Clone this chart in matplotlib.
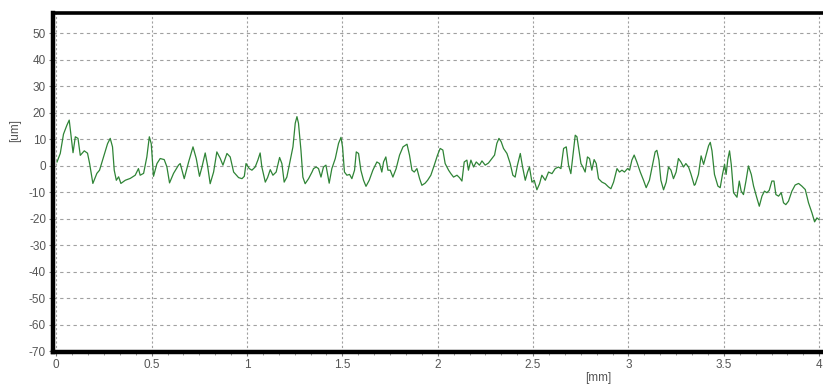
import matplotlib
matplotlib.use("Agg")
import matplotlib.pyplot as plt
from matplotlib.ticker import AutoMinorLocator

# roughness profile: position along the trace [mm] and height [um]
x_mm = [0.004, 0.021, 0.038, 0.056, 0.068, 0.088, 0.100, 0.114, 0.126, 0.147,
        0.164, 0.175, 0.192, 0.213, 0.227, 0.248, 0.269, 0.283, 0.295, 0.304,
        0.315, 0.327, 0.339, 0.362, 0.388, 0.414, 0.431, 0.440, 0.458, 0.475,
        0.488, 0.498, 0.510, 0.528, 0.545, 0.566, 0.580, 0.594, 0.615, 0.641,
        0.650, 0.671, 0.694, 0.717, 0.734, 0.751, 0.764, 0.781, 0.793, 0.807,
        0.825, 0.842, 0.860, 0.874, 0.895, 0.912, 0.930, 0.956, 0.974, 0.986,
        0.995, 1.012, 1.026, 1.043, 1.057, 1.069, 1.078, 1.096, 1.108, 1.122,
        1.136, 1.153, 1.171, 1.183, 1.195, 1.209, 1.227, 1.241, 1.253, 1.262,
        1.270, 1.283, 1.293, 1.305, 1.323, 1.341, 1.349, 1.363, 1.375, 1.388,
        1.401, 1.414, 1.431, 1.445, 1.463, 1.480, 1.493, 1.501, 1.511, 1.524,
        1.538, 1.550, 1.564, 1.573, 1.585, 1.597, 1.611, 1.624, 1.641, 1.660,
        1.681, 1.695, 1.707, 1.716, 1.728, 1.739, 1.751, 1.765, 1.782, 1.800,
        1.818, 1.839, 1.852, 1.865, 1.877, 1.891, 1.905, 1.917, 1.934, 1.947,
        1.964, 1.982, 1.999, 2.013, 2.027, 2.039, 2.057, 2.069, 2.083, 2.101,
        2.114, 2.127, 2.139, 2.153, 2.161, 2.174, 2.188, 2.202, 2.219, 2.232,
        2.249, 2.266, 2.284, 2.298, 2.310, 2.321, 2.333, 2.345, 2.363, 2.380,
        2.394, 2.406, 2.418, 2.433, 2.445, 2.459, 2.471, 2.481, 2.494, 2.506,
        2.520, 2.534, 2.546, 2.564, 2.581, 2.599, 2.616, 2.633, 2.646, 2.660,
        2.674, 2.686, 2.698, 2.709, 2.721, 2.730, 2.742, 2.751, 2.761, 2.773,
        2.785, 2.796, 2.808, 2.820, 2.831, 2.843, 2.861, 2.878, 2.895, 2.908,
        2.922, 2.940, 2.953, 2.966, 2.979, 2.995, 3.006, 3.018, 3.030, 3.044,
        3.062, 3.079, 3.093, 3.110, 3.128, 3.140, 3.149, 3.160, 3.170, 3.184,
        3.198, 3.210, 3.223, 3.236, 3.250, 3.262, 3.275, 3.289, 3.301, 3.315,
        3.327, 3.345, 3.350, 3.367, 3.381, 3.394, 3.406, 3.420, 3.429, 3.438,
        3.451, 3.469, 3.481, 3.493, 3.504, 3.512, 3.521, 3.530, 3.539, 3.551,
        3.569, 3.581, 3.591, 3.603, 3.616, 3.629, 3.644, 3.656, 3.673, 3.686,
        3.700, 3.713, 3.726, 3.738, 3.752, 3.763, 3.773, 3.787, 3.801, 3.813,
        3.825, 3.839, 3.857, 3.874, 3.892, 3.909, 3.927, 3.944, 3.962, 3.976,
        3.988, 4.000]
z_um = [1.5, 4.7, 12.0, 15.4, 17.3, 5.0, 11.0, 10.4, 4.0, 5.7,
        4.8, 0.9, -6.6, -2.8, -1.6, 3.4, 8.4, 10.4, 7.2, -1.6,
        -5.4, -4.1, -6.6, -5.4, -4.7, -3.5, -1.0, -3.5, -2.8, 3.4,
        11.0, 8.4, -3.9, 0.9, 2.8, 2.4, -0.3, -6.4, -2.8, 0.3,
        0.9, -4.8, 1.5, 7.2, 2.8, -3.9, -0.4, 4.9, 0.3, -6.7,
        -2.3, 5.3, 2.8, 0.3, 4.7, 3.4, -2.3, -4.4, -4.8, -3.9,
        0.9, -1.0, -1.6, -0.4, 2.2, 4.9, -0.4, -6.1, -4.4, -1.4,
        -3.5, -2.3, 3.2, 0.9, -6.1, -4.2, 2.2, 7.2, 16.1, 18.6,
        16.1, 5.9, -4.2, -6.7, -4.8, -2.3, -1.0, -0.4, -1.0, -4.2,
        -0.4, 0.3, -6.5, -1.0, 2.8, 8.5, 10.8, 7.2, -2.3, -3.5,
        -3.2, -4.8, -1.6, 5.3, 4.7, -1.6, -5.4, -7.7, -5.4, -1.6,
        1.5, 0.9, -2.3, 1.5, 3.4, -1.6, -1.6, -4.2, -1.0, 4.1,
        7.2, 8.2, 4.1, -1.6, -2.3, -1.0, -4.8, -7.3, -6.5, -5.4,
        -3.5, 0.3, 4.1, 6.6, 6.0, 0.9, -1.6, -2.9, -4.2, -3.5,
        -4.4, -5.7, 1.5, 2.2, -1.6, 2.2, -0.4, 1.5, 0.3, 1.9,
        0.3, 1.1, 2.8, 4.1, 8.5, 10.4, 9.1, 6.6, 4.7, 0.9,
        -3.5, -4.2, 0.3, 4.7, -0.4, -5.4, -2.3, -0.4, -6.1, -5.4,
        -9.0, -6.7, -3.5, -5.4, -2.3, -2.9, -1.0, -0.4, -1.0, 6.6,
        7.2, 0.3, -2.9, 4.1, 11.6, 11.0, 5.3, 0.9, -0.4, -2.3,
        3.4, 2.8, -1.6, 2.4, 0.9, -4.8, -6.1, -6.7, -7.9, -8.6,
        -6.1, -1.0, -2.3, -1.6, -2.3, -1.0, -1.6, 2.2, 4.1, 1.5,
        -2.3, -5.4, -8.2, -5.4, 0.9, 5.3, 5.9, 2.2, -5.4, -9.0,
        -6.1, -0.4, -1.6, -4.8, -2.3, 2.8, 1.5, -0.4, 0.9, -0.4,
        -2.9, -7.3, -7.0, -3.2, 3.8, 0.6, 3.8, 7.6, 8.9, 5.7,
        -3.2, -7.6, -8.2, -3.2, 0.6, -3.2, 2.5, 5.7, 0.6, -10.1,
        -11.8, -5.7, -9.5, -10.8, -5.7, 0.0, -3.2, -7.6, -12.0, -15.2,
        -11.4, -9.5, -10.1, -9.2, -5.7, -5.7, -10.8, -11.4, -10.1, -13.9,
        -14.6, -13.3, -9.5, -7.2, -6.6, -7.6, -8.9, -13.9, -17.7, -21.1,
        -19.6, -20.3]

x_ticks = [0, 0.5, 1, 1.5, 2, 2.5, 3, 3.5, 4]
x_tick_labels = ["0", "0.5", "1", "1.5", "2", "2.5", "3", "3.5", "4"]
y_ticks = list(range(-70, 51, 10))

plt.rcParams["font.family"] = ["Liberation Sans", "DejaVu Sans"]
plt.rcParams["axes.unicode_minus"] = False

fig = plt.figure(figsize=(8.23, 3.85), dpi=100)
ax = fig.add_axes([0.0644, 0.0857, 0.9356, 0.8805])

ax.plot(x_mm, z_um, color="#2f8436", linewidth=0.9)

ax.set_xlim(-0.017, 4.02)
ax.set_ylim(-70.2, 57.7)
ax.set_xticks(x_ticks)
ax.set_xticklabels(x_tick_labels)
ax.set_yticks(y_ticks)
ax.xaxis.set_minor_locator(AutoMinorLocator(6))

ax.tick_params(axis="both", which="major", labelsize=8.5, labelcolor="#555555",
               color="#777777", length=3, width=0.8, pad=2)
ax.tick_params(axis="x", which="minor", color="#999999", length=2.5, width=0.7)

# heavy black frame on left, top and bottom
for side in ["left", "top", "bottom"]:
    ax.spines[side].set_color("black")
ax.spines["left"].set_linewidth(3.2)
ax.spines["bottom"].set_linewidth(3.2)
ax.spines["top"].set_linewidth(2.6)
ax.spines["right"].set_visible(False)

ax.grid(True, which="major", axis="y", color="#a0a0a0", linestyle=(0, (3, 3)), linewidth=0.8)
ax.grid(True, which="major", axis="x", color="#a0a0a0", linestyle=(0, (2, 2)), linewidth=0.8)
ax.set_axisbelow(True)

fig.text(15 / 823, 1 - 130 / 385, "[um]", rotation=90, ha="center", va="center",
         fontsize=8.5, color="#555555")
fig.text(598 / 823, 1 - 378 / 385, "[mm]", ha="center", va="center",
         fontsize=8.5, color="#555555")

fig.savefig("out.png", dpi=100)
